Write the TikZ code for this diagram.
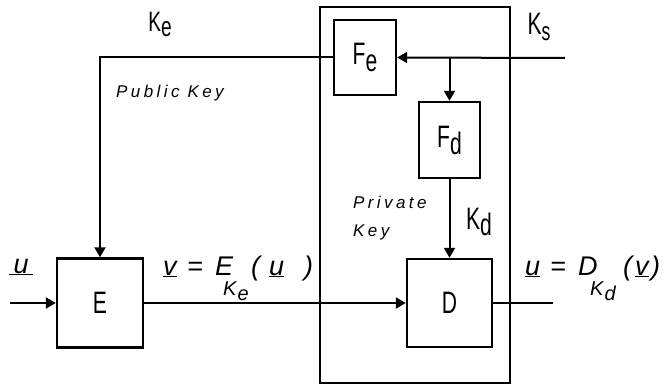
\documentclass[tikz,border=0pt]{standalone}
\usepackage{fontspec}
\setmainfont{Liberation Sans}[FakeStretch=0.68]
\newfontfamily\keyfont{Liberation Sans}[LetterSpace=20]
\newfontfamily\eqfont{Liberation Sans}
\usetikzlibrary{arrows.meta}
\newcommand{\at}[2]{\rlap{#2}\hspace{#1}}
\newcommand{\subK}[1]{\raisebox{-20pt}{\fontsize{20}{20}\selectfont K\kern1pt\raisebox{-5pt}{#1}}}
\begin{document}
\begin{tikzpicture}[x=1pt,y=-1pt,
  blk/.style={draw,line width=2.4pt,minimum width=#1,inner sep=0pt},
  ln/.style={line width=2pt},
  arr/.style={ln,-{Triangle[length=10pt,width=11pt]}},
  big/.style={font=\fontsize{31}{34}\selectfont},
  eq/.style={font=\fontsize{27}{28}\selectfont\eqfont\itshape},
  keylab/.style={font=\fontsize{17}{28}\selectfont\keyfont\itshape}]
\useasboundingbox (0,0) rectangle (666,385);
% enclosing box
\node[draw,line width=2.2pt,minimum width=190pt,minimum height=376pt,inner sep=0pt] (enc) at (415,195) {};
% blocks
\node[blk=62pt,minimum height=75pt,big] (Fe) at (365,57.5) {F\raisebox{-7pt}{e}};
\node[blk=61pt,minimum height=76pt,big] (Fd) at (449.5,140) {F\raisebox{-7pt}{d}};
\node[blk=85pt,minimum height=88pt,big] (D) at (449.5,303) {D};
\node[blk=86pt,minimum height=89pt,big] (E) at (100,303) {E};
% connectors
\coordinate (ks) at (565,58);
\coordinate (br) at (449.5,58);
\coordinate (uin) at (10,303);
\coordinate (uout) at (553,303);
\draw[arr] (ks) -- (Fe.east);
\draw[arr] (br) -- (Fd.north);
\draw[arr] (Fd.south) -- (D.north);
\draw[arr] (Fe.west) -| (E.north);
\draw[arr] (uin) -- (E.west);
\draw[arr] (E.east) -- (D.west);
\draw[ln] (D.east) -- (uout);
% labels
\node[big,font=\fontsize{28}{30}\selectfont] (lke) at (160,25) {K\raisebox{-5pt}{e}};
\node[big] (lks) at (539,27) {K\raisebox{-6pt}{\fontsize{26}{28}\selectfont s}};
\node[big] (lkd) at (479,222) {K\raisebox{-6pt}{d}};
\node[keylab] (pub) at (170,93) {Public Key};
\node[keylab,align=left,anchor=north west,inner sep=0pt] (priv) at (353,196) {Private\\Key};
\node[eq,anchor=base west,inner sep=0pt] (lu) at (9,273) {\underline{\,u\,}};
\node[eq,anchor=base west,inner sep=0pt] (lv) at (163,275)
  {\at{24pt}{\underline{v}}\at{28pt}{=}\at{8pt}{E}\at{28pt}{\subK{e}}\at{18pt}{(}\at{35pt}{\underline{u}})};
\node[eq,anchor=base west,inner sep=0pt] (lu2) at (525,275)
  {\at{25pt}{\underline{u}}\at{28pt}{=}\at{12pt}{D}\at{33pt}{\subK{d}}\at{12pt}{(}\at{16pt}{\underline{v}})};
\end{tikzpicture}
\end{document}
